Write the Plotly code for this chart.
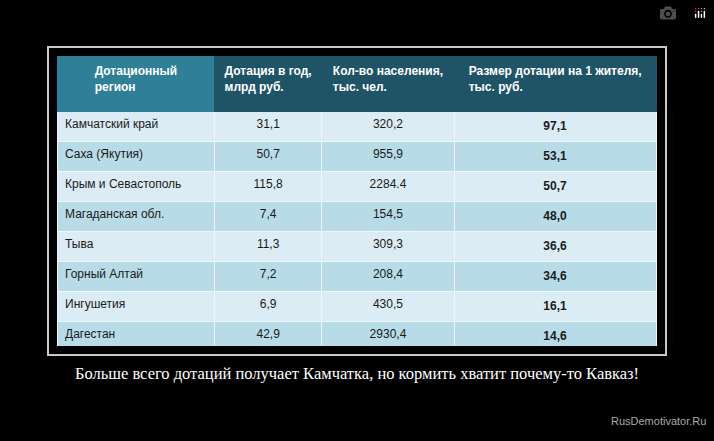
import plotly.graph_objects as go

regions = ["Камчатский край", "Саха (Якутия)", "Крым и Севастополь", "Магаданская обл.",
           "Тыва", "Горный Алтай", "Ингушетия", "Дагестан", "Еврейская АО", "Бурятия",
           "Карачаево-Черкесия", "Чечня"]
subsidy = ["31,1", "50,7", "115,8", "7,4", "11,3", "7,2", "6,9", "42,9", "2,5", "13,7", "6,4", "17,5"]
population = ["320,2", "955,9", "2284.4", "154,5", "309,3", "208,4", "430,5", "2930,4",
              "174,4", "971,4", "474,7", "1302,2"]
per_capita = ["97,1", "53,1", "50,7", "48,0", "36,6", "34,6", "16,1", "14,6", "14,2", "14,1", "13,6", "13,5"]
headers = ["<b>Дотационный<br>регион</b>", "<b>Дотация в год,<br>млрд руб.</b>",
           "<b>Кол-во населения,<br>тыс. чел.</b>", "<b>Размер дотации на 1 жителя,<br>тыс. руб.</b>"]

W, H = 714, 441
row_colors = ["#dcecf4" if i % 2 == 0 else "#b8dbe8" for i in range(len(regions))]

fig = go.Figure(go.Table(
    domain=dict(x=[57 / W, 657 / W], y=[1 - 346 / H, 1 - 56 / H]),
    columnwidth=[158, 107, 133, 202],
    header=dict(
        values=headers,
        fill_color=["#2f7f98", "#1f5467", "#1f5467", "#1f5467"],
        line_color=["#2f7f98", "#1f5467", "#1f5467", "#1f5467"],
        font=dict(family="Liberation Sans", size=12, color="white"),
        align="center", height=55,
    ),
    cells=dict(
        values=[regions, subsidy, population, ["<b>%s</b>" % v for v in per_capita]],
        fill_color=[row_colors] * 4,
        line_color="#eef6fa", line_width=1,
        font=dict(family="Liberation Sans", size=12, color="#1a1a1a"),
        align=["left", "center", "center", "center"], height=20,
    ),
))

fig.add_shape(type="rect", xref="paper", yref="paper",
              x0=48 / W, x1=666 / W, y0=1 - 355 / H, y1=1 - 47 / H,
              line=dict(color="#c8c8c8", width=2))
fig.add_annotation(x=0.5, y=1 - 385 / H, xref="paper", yref="paper", showarrow=False,
                   text="Больше всего дотаций получает Камчатка, но кормить хватит почему-то Кавказ!",
                   font=dict(family="Liberation Serif", size=16.5, color="white"))
fig.add_annotation(x=708 / W, y=1 - 429 / H, xref="paper", yref="paper", showarrow=False,
                   xanchor="right", text="RusDemotivator.Ru",
                   font=dict(family="Liberation Sans", size=11, color="#aaaaaa"))

fig.update_layout(width=W, height=H, margin=dict(l=0, r=0, t=0, b=0),
                  paper_bgcolor="black", plot_bgcolor="black")
fig.write_html("out.html", post_script="document.body.style.margin='0';document.body.style.background='black';")
